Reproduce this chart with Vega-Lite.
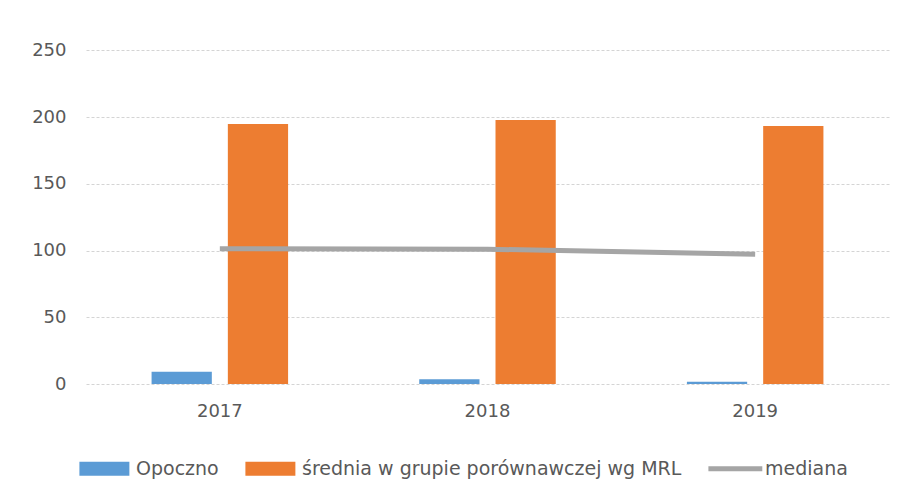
{
  "$schema": "https://vega.github.io/schema/vega-lite/v6.json",
  "width": 803,
  "height": 347,
  "padding": {"left": 31, "top": 37, "right": 10, "bottom": 5},
  "background": "white",
  "config": {
    "font": "DejaVu Sans",
    "view": {"stroke": null},
    "axis": {"labelFont": "DejaVu Sans", "labelFontSize": 18, "labelColor": "#595959", "ticks": false, "domain": false, "title": null},
    "legend": {"labelFont": "DejaVu Sans", "labelFontSize": 19, "labelColor": "#595959", "padding": 0}
  },
  "datasets": {
    "bars": [
      {"year": "2017", "series": "Opoczno", "value": 9.2},
      {"year": "2017", "series": "średnia w grupie porównawczej wg MRL", "value": 194.8},
      {"year": "2018", "series": "Opoczno", "value": 3.5},
      {"year": "2018", "series": "średnia w grupie porównawczej wg MRL", "value": 197.8},
      {"year": "2019", "series": "Opoczno", "value": 1.7},
      {"year": "2019", "series": "średnia w grupie porównawczej wg MRL", "value": 193.3}
    ],
    "median": [
      {"year": "2017", "series": "mediana", "value": 101.3},
      {"year": "2018", "series": "mediana", "value": 101},
      {"year": "2019", "series": "mediana", "value": 97.2}
    ]
  },
  "layer": [
    {
      "data": {"name": "bars"},
      "mark": {"type": "bar"},
      "encoding": {
        "x": {"field": "year", "type": "nominal", "scale": {"paddingInner": 0.49, "paddingOuter": 0.245}, "axis": {"labelAngle": 0, "labelPadding": 18}},
        "xOffset": {"field": "series", "type": "nominal", "scale": {"paddingInner": 0.21, "paddingOuter": 0}},
        "y": {"field": "value", "type": "quantitative", "scale": {"domain": [0, 250]}, "axis": {"values": [0, 50, 100, 150, 200, 250], "grid": true, "gridColor": "#d4d4d4", "gridDash": [3, 2], "labelPadding": 20}},
        "color": {
          "field": "series", "type": "nominal",
          "scale": {"domain": ["Opoczno", "średnia w grupie porównawczej wg MRL", "mediana"], "range": ["#5B9BD5", "#ED7D31", "#A5A5A5"]},
          "legend": {
            "orient": "bottom", "direction": "horizontal", "title": null, "offset": 39,
            "labelLimit": 600, "symbolSize": 196, "symbolStrokeWidth": 0, "labelOffset": 31, "columnPadding": 26,
            "encoding": {
              "symbols": {
                "shape": {"value": {"expr": "datum.value === 'mediana' ? 'M-2.3,-0.35H5.4V0.35H-2.3Z' : 'M-2.3,-1H4.84V1H-2.3Z'"}},
                "fill": {"value": {"expr": "scale('color', datum.value)"}},
                "strokeWidth": {"value": 0}
              }
            }
          }
        }
      }
    },
    {
      "data": {"name": "median"},
      "mark": {"type": "line", "strokeWidth": 5},
      "encoding": {
        "x": {"field": "year", "type": "nominal"},
        "y": {"field": "value", "type": "quantitative"},
        "color": {"field": "series", "type": "nominal"}
      }
    }
  ]
}
